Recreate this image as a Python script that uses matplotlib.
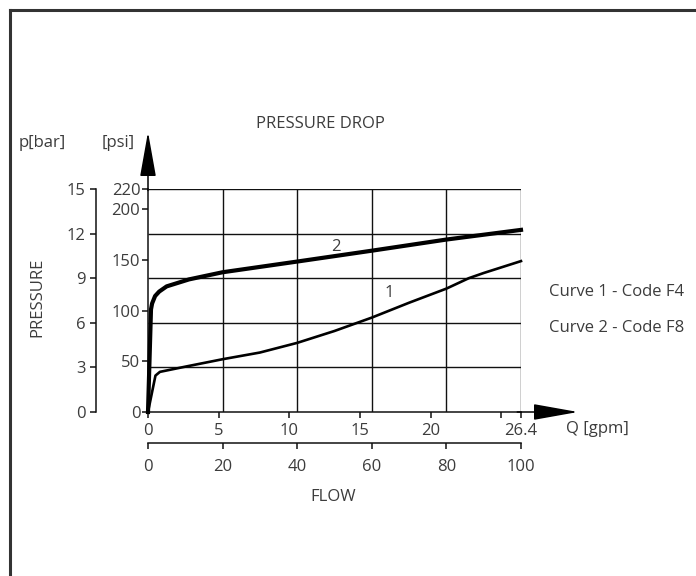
import numpy as np
import matplotlib.pyplot as plt
from matplotlib.lines import Line2D
from matplotlib.patches import FancyArrowPatch

plt.rcParams['font.family'] = ['Open Sans', 'DejaVu Sans']

# flow in l/min, pressure in bar
curve1_flow = [0, 2.0, 3.2, 10, 20, 30, 40, 50, 60, 70, 80, 86, 90, 100]
curve1_bar = [0, 2.45, 2.7, 3.05, 3.55, 4.0, 4.65, 5.45, 6.35, 7.35, 8.3, 9.0, 9.35, 10.15]
curve2_flow = [0, 0.8, 1.1, 1.9, 3, 5, 11, 20, 40, 60, 80, 100]
curve2_bar = [0, 6.9, 7.3, 7.8, 8.1, 8.45, 8.92, 9.4, 10.12, 10.85, 11.6, 12.25]

bar_ticks = [0, 3, 6, 9, 12, 15]
psi_ticks = [0, 50, 100, 150, 200, 220]
gpm_ticks = [0, 5, 10, 15, 20, 25, 26.4]
gpm_labels = ['0', '5', '10', '15', '20', '', '26.4']
lpm_ticks = [0, 20, 40, 60, 80, 100]
grid_flow = [20, 40, 60, 80, 100]
grid_bar = [3, 6, 9, 12, 15]

txt = '#3c3c3c'
ink = '#111111'
W, H = 696, 576
fs = 12

fig = plt.figure(figsize=(6.96, 5.76), dpi=100)
ax = fig.add_axes([148 / W, (H - 412) / H, 373 / W, 223 / H])
ax.set_xlim(0, 100)
ax.set_ylim(0, 15)
for s in ax.spines.values():
    s.set_visible(False)
ax.set_xticks([])
ax.set_yticks([])
ax.patch.set_alpha(0)

ax.vlines(grid_flow, 0, 15, color=ink, lw=1.0)
ax.hlines(grid_bar, 0, 100, color=ink, lw=1.0)

ax.plot(curve1_flow, curve1_bar, color='black', lw=1.9, solid_joinstyle='round', clip_on=False)
ax.plot(curve2_flow, curve2_bar, color='black', lw=3.0, solid_joinstyle='round', clip_on=False)
ax.text(50.5, 11.1, '2', fontsize=fs, color=txt, ha='center', va='center')
ax.text(64.8, 8.0, '1', fontsize=fs, color=txt, ha='center', va='center')

# the chart puts 220 psi on the 15 bar line
k = 220 / 15
psi = ax.secondary_yaxis('left', functions=(lambda b: b * k, lambda p: p / k))
psi.set_yticks(psi_ticks)
bar = ax.secondary_yaxis(-52 / 373)
bar.set_yticks(bar_ticks)
g = 100 / 26.4
gpm = ax.secondary_xaxis('bottom', functions=(lambda q: q / g, lambda q: q * g))
gpm.set_xticks(gpm_ticks, gpm_labels)
lpm = ax.secondary_xaxis(-31 / 223)
lpm.set_xticks(lpm_ticks)

for a in (psi, bar, gpm, lpm):
    for s in a.spines.values():
        s.set_color(ink)
        s.set_linewidth(1.1)
    a.tick_params(colors=ink, labelcolor=txt, labelsize=fs, width=1.1, length=4.5, pad=2)
gpm.tick_params(pad=3.5)
lpm.tick_params(pad=7)
bar.tick_params(pad=3)
psi.tick_params(pad=1)

# axis arrows
arr = dict(arrowstyle='-|>,head_length=2.8,head_width=0.5', mutation_scale=10,
           color='black', lw=1.1, clip_on=False, shrinkA=0, shrinkB=0)
ax.add_patch(FancyArrowPatch((0, 14.9), (0, (412 - 132) / 14.867), **arr))
ax.add_patch(FancyArrowPatch((99, 0), ((578 - 148) / 3.73, 0), **arr))

def px(x, y):
    return x / W, 1 - y / H

kw = dict(fontsize=fs, color=txt, va='center')
fig.text(*px(320, 124), 'PRESSURE DROP', ha='center', **kw)
fig.text(*px(42, 143), 'p[bar]', ha='center', **kw)
fig.text(*px(118, 143), '[psi]', ha='center', **kw)
fig.text(*px(37, 297), 'PRESSURE', ha='center', rotation=90, **kw)
fig.text(*px(333, 497), 'FLOW', ha='center', **kw)
fig.text(*px(597, 429), 'Q [gpm]', ha='center', **kw)
fig.text(*px(549, 292), 'Curve 1 - Code F4', ha='left', **kw)
fig.text(*px(549, 328), 'Curve 2 - Code F8', ha='left', **kw)

# frame on the left and top
fig.add_artist(Line2D([10 / W, 10 / W], [0, 1 - 10 / H], color='#333333', lw=2.2))
fig.add_artist(Line2D([10 / W, 1], [1 - 10 / H, 1 - 10 / H], color='#333333', lw=2.2))

fig.savefig('out.png', dpi=100)
